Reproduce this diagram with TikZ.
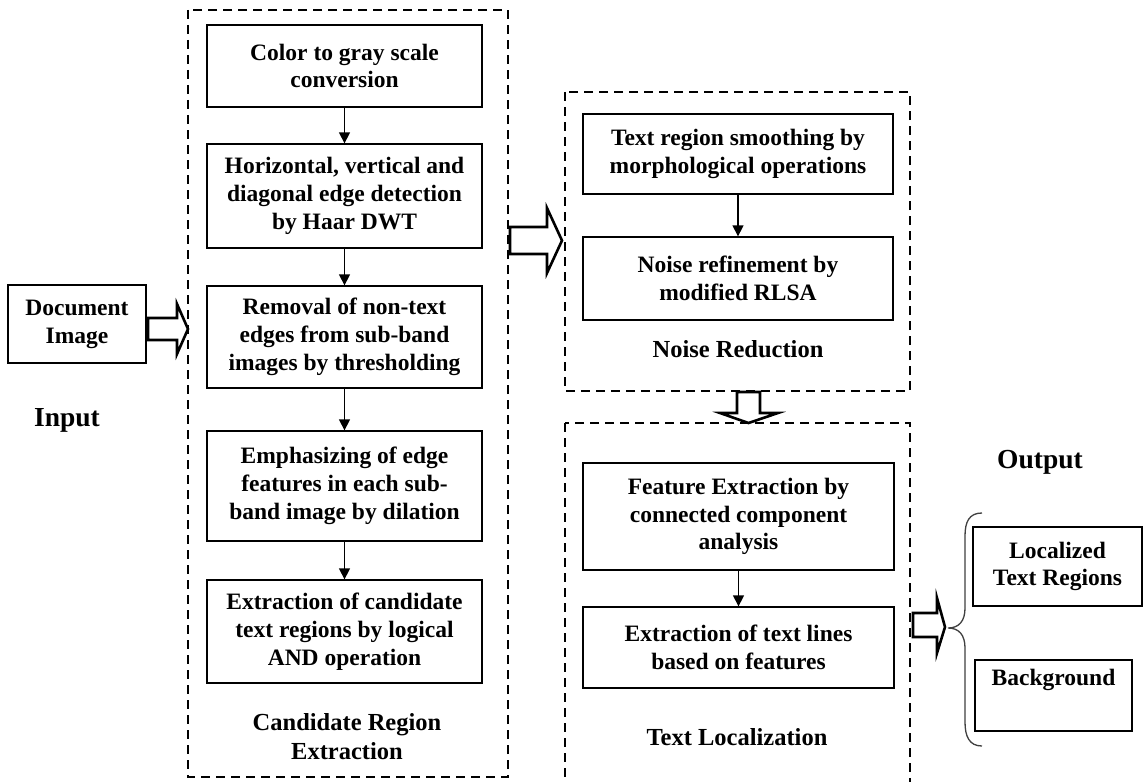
\documentclass[tikz,border=0pt]{standalone}
\usepackage{fontspec}
\setmainfont{Liberation Serif}
\usetikzlibrary{arrows.meta}
\begin{document}
\begin{tikzpicture}[x=1pt,y=-1pt,
  every node/.style={font=\fontsize{23.5}{27.8}\selectfont\bfseries, align=center, inner sep=0pt},
  procbox/.style={draw, line width=1.3pt, minimum width=#1},
  procbox/.default=275,
  groupbox/.style={draw, dashed, dash pattern=on 9pt off 6pt, line width=1.8pt},
  flow/.style={line width=1.3pt, -{Triangle[length=11pt,width=11pt]}},
  blockarrow/.style={draw, line width=2.6pt, line join=miter, fill=white},
  lbl/.style={font=\fontsize{24.5}{29}\selectfont\bfseries},
  iolbl/.style={font=\fontsize{27.5}{32}\selectfont\bfseries}
]
\clip (0,0) rectangle (1147,781);
\fill[white] (0,0) rectangle (1147,781);

% group boxes
\draw[groupbox] (188,10) rectangle (508,777);
\draw[groupbox] (565,92) rectangle (910,391);
\draw[groupbox] (565,423) rectangle (910,800);

% input
\node[procbox=138, minimum height=78] (doc) at (77,324) {Document\\Image};
\node[iolbl] (input) at (67,420) {Input};

% candidate region extraction
\node[procbox, minimum height=82] (b1) at (344.5,66) {Color to gray scale\\conversion};
\node[procbox, minimum height=104] (b2) at (344.5,196) {Horizontal, vertical and\\diagonal edge detection\\by Haar DWT};
\node[procbox, minimum height=102] (b3) at (344.5,337) {Removal of non-text\\edges from sub-band\\images by thresholding};
\node[procbox, minimum height=110] (b4) at (344.5,486) {Emphasizing of edge\\features in each sub-\\band image by dilation};
\node[procbox, minimum height=103] (b5) at (344.5,631.5) {Extraction of candidate\\text regions by logical\\AND operation};
\node[lbl] (cre) at (347,737) {Candidate Region\\Extraction};

\draw[flow] (b1) -- (b2);
\draw[flow] (b2) -- (b3);
\draw[flow] (b3) -- (b4);
\draw[flow] (b4) -- (b5);

% noise reduction
\node[procbox=310, minimum height=80] (na) at (738,154) {Text region smoothing by\\morphological operations};
\node[procbox=310, minimum height=83] (nb) at (738,278.5) {Noise refinement by\\modified RLSA};
\node[lbl] (nr) at (738,349) {Noise Reduction};
\draw[flow] (na) -- (nb);

% text localization
\node[procbox=311, minimum height=107] (tc) at (738.5,516.5) {Feature Extraction by\\connected component\\analysis};
\node[procbox=311, minimum height=81] (td) at (738.5,647.5) {Extraction of text lines\\based on features};
\node[lbl] (tl) at (737,737) {Text Localization};
\draw[flow] (tc) -- (td);

% output
\node[iolbl] (output) at (1040,462) {Output};
\node[procbox=169, minimum height=79] (loc) at (1057.5,566.5) {Localized\\Text Regions};
\node[procbox=157, minimum height=71] (bg) at (1053.5,695.5) {Background\\\strut};

% block arrows
\path[blockarrow] (148,318) -- (177,318) -- (177,304) -- (188,329) -- (177,354) -- (177,340) -- (148,340) -- cycle;
\path[blockarrow] (510,227) -- (547,227) -- (547,208) -- (562,240.5) -- (547,273) -- (547,254) -- (510,254) -- cycle;
\path[blockarrow] (737,392) -- (737,413) -- (720,413) -- (748.5,423) -- (778,413) -- (760,413) -- (760,392) -- cycle;
\path[blockarrow] (913,613) -- (937,613) -- (937,598) -- (945,627) -- (937,653) -- (937,637) -- (913,637) -- cycle;

% brace
\draw[line width=1.3pt, black!75] (982,513) .. controls (969,513) and (965,522) .. (965,536) -- (965,608)
  .. controls (965,621) and (959,628) .. (948,628)
  .. controls (959,628) and (965,635) .. (965,648) -- (965,722)
  .. controls (965,736) and (969,746) .. (982,746);
\end{tikzpicture}
\end{document}
